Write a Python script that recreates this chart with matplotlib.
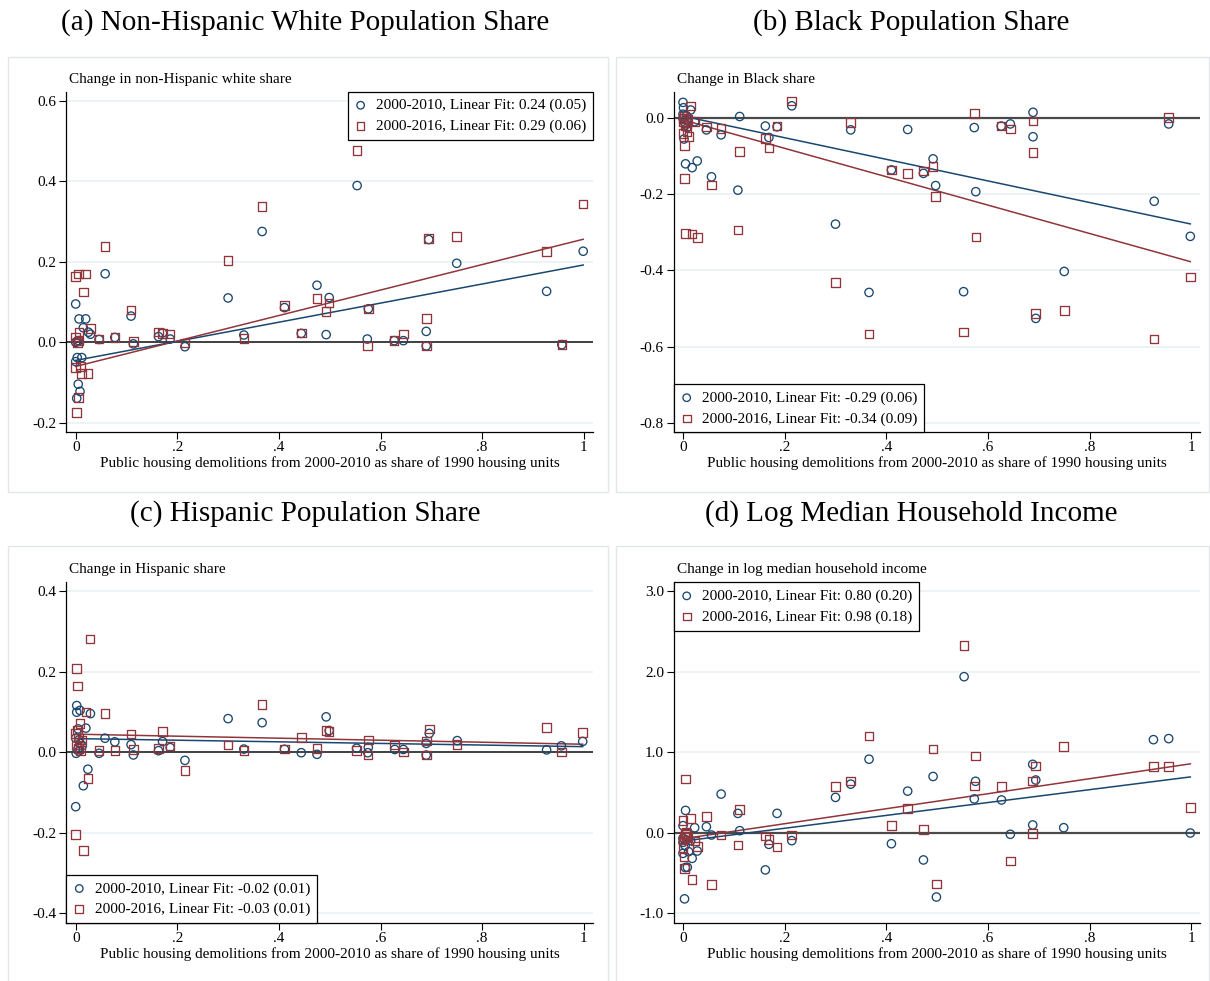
# Public housing demolitions vs. neighbourhood change: four scatter panels
import matplotlib
matplotlib.use('Agg')
import matplotlib.pyplot as plt
from matplotlib.patches import Rectangle
import numpy as np

plt.rcParams['font.family'] = ['Liberation Serif', 'DejaVu Serif']

# ---- data ----
# (a) non-Hispanic white share
white_x10 = [0.000, 0.0066, 0.0197, 0.015, 0.025, 0.029, 0.003, 0.006, 0.000, 0.003, 0.012, 0.000, 0.005, 0.0085, 0.002,
             0.046, 0.058, 0.077, 0.109, 0.1135, 0.163, 0.171, 0.186, 0.215, 0.300, 0.331, 0.367, 0.411, 0.444, 0.475,
             0.493, 0.499, 0.554, 0.576, 0.574, 0.627, 0.645, 0.690, 0.690, 0.695, 0.750, 0.927, 0.957, 0.999]
white_y10 = [0.095, 0.058, 0.058, 0.036, 0.025, 0.020, 0.002, 0.004, 0.000, -0.038, -0.038, -0.048, -0.104, -0.122, -0.139,
             0.007, 0.170, 0.012, 0.065, -0.004, 0.014, 0.023, 0.008, -0.011, 0.110, 0.018, 0.275, 0.086, 0.022, 0.1415,
             0.019, 0.111, 0.389, 0.083, 0.008, 0.004, 0.004, 0.027, -0.009, 0.255, 0.196, 0.1265, -0.006, 0.226]
white_x16 = [0.000, 0.006, 0.019, 0.015, 0.029, 0.0066, 0.000, 0.003, 0.006, 0.000, 0.0098, 0.011, 0.024, 0.005, 0.002,
             0.046, 0.058, 0.077, 0.109, 0.1135, 0.163, 0.171, 0.186, 0.215, 0.300, 0.331, 0.367, 0.411, 0.444, 0.475,
             0.493, 0.499, 0.554, 0.576, 0.574, 0.627, 0.645, 0.690, 0.690, 0.695, 0.750, 0.927, 0.957, 0.999]
white_y16 = [0.163, 0.169, 0.170, 0.125, 0.034, 0.025, 0.013, -0.002, 0.003, -0.063, -0.060, -0.078, -0.077, -0.137, -0.175,
             0.008, 0.2375, 0.012, 0.080, 0.002, 0.026, 0.022, 0.020, -0.002, 0.203, 0.010, 0.337, 0.091, 0.023, 0.108,
             0.076, 0.097, 0.476, 0.083, -0.009, 0.004, 0.020, 0.059, -0.009, 0.258, 0.262, 0.225, -0.006, 0.343]
white_fit = [(-0.045, 0.237), (-0.060, 0.316)]  # (intercept, slope) of drawn fit lines

# (b) Black share
black_x10 = [0.000, 0.001, 0.015, 0.000, 0.000, 0.007, 0.005, 0.0085, 0.023, 0.002, 0.005, 0.018, 0.028, 0.003, 0.010,
             0.046, 0.056, 0.075, 0.108, 0.1115, 0.162, 0.169, 0.185, 0.214, 0.300, 0.330, 0.366, 0.410, 0.442, 0.473,
             0.492, 0.497, 0.552, 0.573, 0.576, 0.626, 0.644, 0.6886, 0.6886, 0.694, 0.750, 0.927, 0.9555, 0.998]
black_y10 = [0.040, 0.026, 0.020, 0.009, -0.002, 0.005, -0.019, -0.026, -0.0105, -0.056, -0.121, -0.131, -0.1135, -0.012, -0.005,
             -0.032, -0.155, -0.045, -0.190, 0.003, -0.022, -0.052, -0.024, 0.031, -0.279, -0.032, -0.458, -0.137, -0.031, -0.146,
             -0.108, -0.178, -0.456, -0.026, -0.194, -0.022, -0.0165, 0.014, -0.050, -0.526, -0.403, -0.219, -0.0165, -0.311]
black_x16 = [0.015, 0.000, 0.002, 0.008, 0.000, 0.012, 0.003, 0.003, 0.005, 0.018, 0.028, 0.023, 0.005, 0.001, 0.010,
             0.046, 0.056, 0.075, 0.108, 0.1115, 0.162, 0.169, 0.185, 0.214, 0.300, 0.330, 0.366, 0.410, 0.442, 0.473,
             0.492, 0.497, 0.552, 0.573, 0.576, 0.626, 0.644, 0.6886, 0.6886, 0.694, 0.750, 0.927, 0.9555, 0.998]
black_y16 = [0.031, -0.002, 0.004, -0.037, -0.041, -0.050, -0.073, -0.159, -0.303, -0.305, -0.3135, -0.0105, -0.020, -0.010, -0.005,
             -0.025, -0.176, -0.028, -0.294, -0.089, -0.054, -0.079, -0.022, 0.044, -0.432, -0.013, -0.567, -0.137, -0.146, -0.140,
             -0.128, -0.207, -0.562, 0.0115, -0.313, -0.022, -0.0296, -0.0087, -0.091, -0.513, -0.505, -0.580, 0.000, -0.417]
black_fit = [(0.004, -0.283), (-0.006, -0.372)]

# (c) Hispanic share
hisp_x10 = [0.002, 0.002, 0.0085, 0.029, 0.020, 0.005, 0.000, 0.0066, 0.0085, 0.013, 0.005, 0.001, 0.0066, 0.024, 0.015, 0.000,
            0.046, 0.0577, 0.077, 0.109, 0.1135, 0.163, 0.171, 0.186, 0.215, 0.300, 0.331, 0.367, 0.411, 0.444, 0.475,
            0.493, 0.499, 0.553, 0.575, 0.576, 0.628, 0.645, 0.690, 0.690, 0.696, 0.751, 0.927, 0.956, 0.998]
hisp_y10 = [0.116, 0.0995, 0.104, 0.096, 0.060, 0.058, 0.035, 0.031, 0.022, 0.0165, 0.010, -0.0025, 0.003, -0.042, -0.083, -0.135,
            -0.0025, 0.035, 0.026, 0.019, -0.0066, 0.004, 0.0265, 0.0116, -0.020, 0.0836, 0.008, 0.0736, 0.0075, -0.001, -0.005,
            0.088, 0.054, 0.010, -0.001, 0.012, 0.007, 0.007, 0.022, -0.007, 0.047, 0.029, 0.006, 0.016, 0.027]
hisp_x16 = [0.028, 0.002, 0.004, 0.020, 0.0085, 0.003, 0.000, 0.005, 0.012, 0.002, 0.006, 0.024, 0.000, 0.015, 0.010,
            0.046, 0.0577, 0.077, 0.109, 0.1135, 0.163, 0.171, 0.186, 0.215, 0.300, 0.331, 0.367, 0.411, 0.444, 0.475,
            0.493, 0.499, 0.553, 0.575, 0.576, 0.628, 0.645, 0.690, 0.690, 0.696, 0.751, 0.927, 0.956, 0.998]
hisp_y16 = [0.281, 0.2085, 0.165, 0.0995, 0.071, 0.055, 0.047, 0.035, 0.031, 0.018, 0.010, -0.0645, -0.2035, -0.244, 0.004,
            0.004, 0.097, 0.004, 0.045, 0.0074, 0.009, 0.051, 0.0157, -0.045, 0.018, 0.004, 0.118, 0.008, 0.037, 0.010,
            0.054, 0.052, 0.004, -0.007, 0.031, 0.018, 0.001, 0.028, -0.007, 0.058, 0.019, 0.062, 0.001, 0.049]
hisp_fit = [(0.034, -0.020), (0.045, -0.025)]

# (d) log median household income
inc_x10 = [0.005, 0.000, 0.023, 0.000, 0.0066, 0.015, 0.000, 0.011, 0.028, 0.018, 0.0046, 0.0085, 0.003, 0.000, 0.004,
           0.046, 0.056, 0.075, 0.108, 0.1115, 0.162, 0.169, 0.185, 0.214, 0.300, 0.330, 0.366, 0.410, 0.442, 0.473,
           0.492, 0.4985, 0.553, 0.573, 0.5755, 0.6266, 0.644, 0.688, 0.688, 0.694, 0.749, 0.9255, 0.9555, 0.998]
inc_y10 = [0.277, 0.087, 0.062, -0.070, -0.091, -0.099, -0.257, -0.236, -0.228, -0.319, -0.434, -0.430, -0.823, -0.12, -0.16,
           0.074, -0.029, 0.48, 0.24, 0.025, -0.463, -0.145, 0.24, -0.099, 0.439, 0.604, 0.914, -0.137, 0.517, -0.339,
           0.699, -0.80, 1.94, 0.42, 0.639, 0.407, -0.02, 0.85, 0.096, 0.655, 0.062, 1.157, 1.17, -0.004]
inc_x16 = [0.005, 0.000, 0.0144, 0.005, 0.007, 0.000, 0.024, 0.028, 0.000, 0.003, 0.018, 0.003, 0.010, 0.002, 0.006,
           0.046, 0.056, 0.075, 0.108, 0.1115, 0.162, 0.169, 0.185, 0.214, 0.300, 0.330, 0.366, 0.410, 0.442, 0.473,
           0.492, 0.4985, 0.553, 0.573, 0.5755, 0.6266, 0.644, 0.688, 0.688, 0.694, 0.749, 0.9255, 0.9555, 0.998]
inc_y16 = [0.666, 0.149, 0.174, -0.008, -0.02, -0.091, -0.103, -0.174, -0.186, -0.443, -0.579, -0.05, -0.06, -0.30, 0.01,
           0.199, -0.645, -0.029, -0.153, 0.290, -0.041, -0.083, -0.178, -0.029, 0.575, 0.645, 1.20, 0.087, 0.302, 0.041,
           1.043, -0.638, 2.33, 0.58, 0.954, 0.577, -0.352, 0.643, -0.012, 0.83, 1.07, 0.82, 0.82, 0.316]
inc_fit = [(-0.105, 0.80), (-0.075, 0.933)]

titles = ['(a) Non-Hispanic White Population Share', '(b) Black Population Share',
          '(c) Hispanic Population Share', '(d) Log Median Household Income']
ytitles = ['Change in non-Hispanic white share', 'Change in Black share',
           'Change in Hispanic share', 'Change in log median household income']
legend_labels = [['2000-2010, Linear Fit: 0.24 (0.05)', '2000-2016, Linear Fit: 0.29 (0.06)'],
                 ['2000-2010, Linear Fit: -0.29 (0.06)', '2000-2016, Linear Fit: -0.34 (0.09)'],
                 ['2000-2010, Linear Fit: -0.02 (0.01)', '2000-2016, Linear Fit: -0.03 (0.01)'],
                 ['2000-2010, Linear Fit: 0.80 (0.20)', '2000-2016, Linear Fit: 0.98 (0.18)']]
yticks = [[-0.2, 0.0, 0.2, 0.4, 0.6], [-0.8, -0.6, -0.4, -0.2, 0.0],
          [-0.4, -0.2, 0.0, 0.2, 0.4], [-1.0, 0.0, 1.0, 2.0, 3.0]]
xticks = [0, 0.2, 0.4, 0.6, 0.8, 1]
xtick_labels = ['0', '.2', '.4', '.6', '.8', '1']
xlabel = 'Public housing demolitions from 2000-2010 as share of 1990 housing units'

NAVY = '#1a476f'
MAROON = '#90353b'

W, H = 1210, 981
fig = plt.figure(figsize=(W / 100, H / 100), dpi=100)


def frac(x0, y0, x1, y1):
    # pixel box (top-left origin) -> figure fraction [left, bottom, width, height]
    return [x0 / W, 1 - y1 / H, (x1 - x0) / W, (y1 - y0) / H]


panels = [
    dict(box=(66.3, 91.7, 593, 432.5), xlim=(-0.0185, 1.0183), ylim=(-0.224, 0.622),
         frame=(8, 57, 608, 492), title_xy=(305, 23), loc='upper right',
         data=(white_x10, white_y10, white_x16, white_y16, white_fit), zero=('#111111', 1.1)),
    dict(box=(673.7, 91.7, 1200, 432.5), xlim=(-0.0183, 1.0171), ylim=(-0.825, 0.068),
         frame=(616, 57, 1209, 492), title_xy=(911, 23), loc='lower left',
         data=(black_x10, black_y10, black_x16, black_y16, black_fit), zero=('#4a4a4a', 1.6)),
    dict(box=(66.3, 582.3, 593, 923.3), xlim=(-0.0185, 1.0183), ylim=(-0.4245, 0.422),
         frame=(8, 546, 608, 990), title_xy=(305, 514), loc='lower left',
         data=(hisp_x10, hisp_y10, hisp_x16, hisp_y16, hisp_fit), zero=('#111111', 1.1)),
    dict(box=(673.7, 582.3, 1200, 923.3), xlim=(-0.0183, 1.0171), ylim=(-1.127, 3.114),
         frame=(616, 546, 1209, 990), title_xy=(911, 514), loc='upper left',
         data=(inc_x10, inc_y10, inc_x16, inc_y16, inc_fit), zero=('#4a4a4a', 1.6)),
]

for i, p in enumerate(panels):
    # light outer frame around each panel
    fx0, fy0, fx1, fy1 = p['frame']
    fig.patches.append(Rectangle((fx0 / W, 1 - fy1 / H), (fx1 - fx0) / W, (fy1 - fy0) / H,
                                 transform=fig.transFigure, fill=False, edgecolor='#e3e7ea', lw=1.0))
    fig.text(p['title_xy'][0] / W, 1 - p['title_xy'][1] / H, titles[i], ha='center', va='center', fontsize=21)

    ax = fig.add_axes(frac(*p['box']))
    x10, y10, x16, y16, fit = p['data']

    for yt in yticks[i]:
        ax.axhline(yt, color='#eaf0f3', lw=1.2, zorder=0)
    ax.axhline(0, color=p['zero'][0], lw=p['zero'][1], zorder=1)

    ax.scatter(x10, y10, s=36, marker='o', facecolors='none', edgecolors=NAVY, linewidths=0.95, zorder=3,
               label=legend_labels[i][0])
    ax.scatter(x16, y16, s=38, marker='s', facecolors='none', edgecolors=MAROON, linewidths=0.95, zorder=3,
               label=legend_labels[i][1])

    for (b0, b1), xs, col in [(fit[0], x10, NAVY), (fit[1], x16, MAROON)]:
        xx = np.array([min(xs), max(xs)])
        ax.plot(xx, b0 + b1 * xx, color=col, lw=1.1, zorder=2)

    ax.set_xlim(*p['xlim'])
    ax.set_ylim(*p['ylim'])
    ax.set_yticks(yticks[i])
    ax.set_yticklabels(['%.1f' % v for v in yticks[i]])
    ax.set_xticks(xticks)
    ax.set_xticklabels(xtick_labels)
    ax.tick_params(direction='out', length=5, width=0.8, labelsize=11, pad=2)
    ax.tick_params(axis='x', pad=1)
    for s in ['top', 'right']:
        ax.spines[s].set_visible(False)
    for s in ['left', 'bottom']:
        ax.spines[s].set_linewidth(0.9)
    ax.set_xlabel(xlabel, fontsize=11, labelpad=2)
    ax.text(0.006, 1.037, ytitles[i], transform=ax.transAxes, fontsize=11, va='center', ha='left')

    anchor = {'upper right': (1, 1), 'lower left': (0, 0), 'upper left': (0, 1)}[p['loc']]
    leg = ax.legend(loc=p['loc'], bbox_to_anchor=anchor, borderaxespad=0, fontsize=11,
                    frameon=True, fancybox=False, framealpha=1, edgecolor='black',
                    handlelength=0.8, handletextpad=0.6, borderpad=0.45, labelspacing=0.45,
                    markerscale=0.9)
    leg.get_frame().set_linewidth(0.9)

fig.savefig('out.png', dpi=100)
